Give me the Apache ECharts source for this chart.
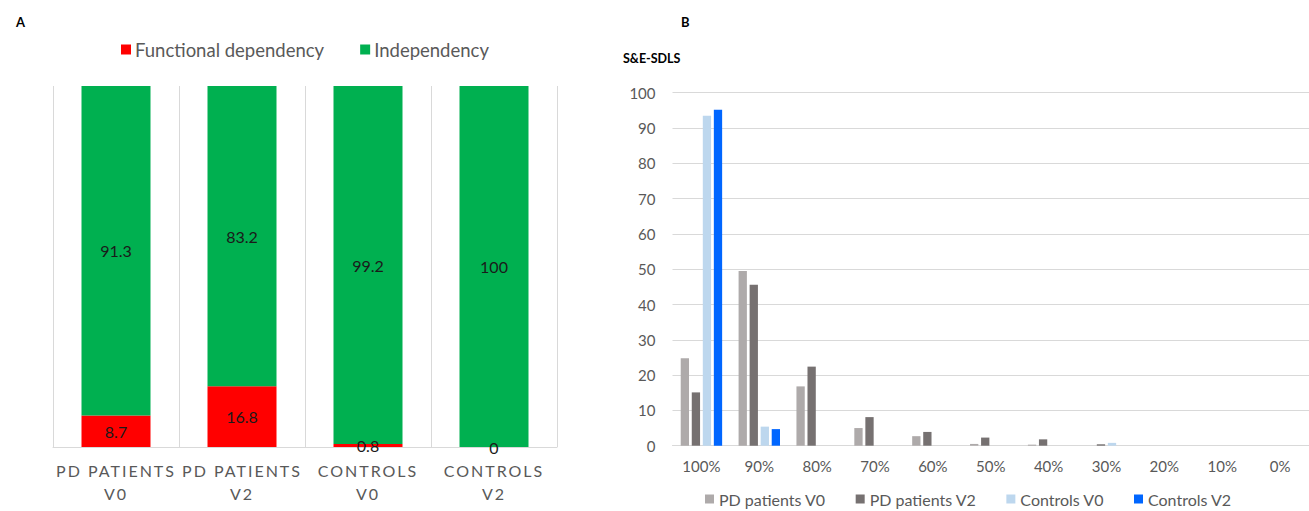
<!DOCTYPE html>
<html>
<head>
<meta charset="utf-8">
<script src="https://cdn.jsdelivr.net/npm/echarts@6/dist/echarts.min.js"></script>
<style>
  html, body { margin: 0; padding: 0; background: #fff; }
  #chart { width: 1309px; height: 511px; }
  /* spaced capitals for the group names under panel A */
  #chart text[style*="Carlito"] { letter-spacing: 2px; }
</style>
</head>
<body>
<div id="chart"></div>
<script>
// Panel A: share of functional dependency vs independency per group (%)
const groupsA = ['PD PATIENTS\nV0', 'PD PATIENTS\nV2', 'CONTROLS\nV0', 'CONTROLS\nV2'];
const dependency = [8.7, 16.8, 0.8, 0];
const independency = [91.3, 83.2, 99.2, 100];

// Panel B: S&E-SDLS score distribution (% of subjects)
const sdlsScores = ['100%', '90%', '80%', '70%', '60%', '50%', '40%', '30%', '20%', '10%', '0%'];
const pdPatientsV0 = [24.8, 49.5, 16.8, 5.0, 2.7, 0.5, 0.3, 0, 0, 0, 0];
const pdPatientsV2 = [15.1, 45.6, 22.4, 8.1, 3.9, 2.3, 1.8, 0.4, 0, 0, 0];
const controlsV0 = [93.5, 5.4, 0, 0, 0, 0, 0, 0.8, 0, 0, 0];
const controlsV2 = [95.2, 4.7, 0, 0, 0, 0, 0, 0, 0, 0, 0];
const valueTicksB = { min: 0, max: 100, interval: 10 };

const FONT = 'Lato';
const GREY_TEXT = '#595959';
const GRID_LINE = '#d9d9d9';

const chart = echarts.init(document.getElementById('chart'), null, { renderer: 'svg' });

const barB = (name, data, color) => ({
  name, type: 'bar', data, xAxisIndex: 1, yAxisIndex: 1,
  itemStyle: { color },
  barWidth: 8.3, barGap: '33%'
});

chart.setOption({
  animation: false,
  backgroundColor: '#fff',
  title: [
    { text: 'A', left: 11, top: 10, textStyle: { fontFamily: FONT, fontSize: 13, fontWeight: 'bold', color: '#000' } },
    { text: 'B', left: 676, top: 10, textStyle: { fontFamily: FONT, fontSize: 13, fontWeight: 'bold', color: '#000' } },
    { text: 'S&E-SDLS', left: 618, top: 47, textStyle: { fontFamily: FONT, fontSize: 12.5, fontWeight: 'bold', color: '#000' } }
  ],
  legend: [
    {
      data: ['Functional dependency', 'Independency'],
      left: 116, top: 35,
      itemWidth: 10, itemHeight: 10, itemGap: 36,
      icon: 'rect',
      textStyle: { fontFamily: FONT, fontSize: 18.5, color: GREY_TEXT, padding: [0, 0, 0, -1] }
    },
    {
      data: ['PD patients V0', 'PD patients V2', 'Controls V0', 'Controls V2'],
      left: 700, top: 486,
      itemWidth: 9, itemHeight: 9, itemGap: 30,
      icon: 'rect',
      textStyle: { fontFamily: FONT, fontSize: 16, color: GREY_TEXT }
    }
  ],
  grid: [
    { left: 53, right: 752, top: 86, bottom: 64 },
    { left: 672.5, right: -12.5, top: 92.7, bottom: 65.3 }
  ],
  xAxis: [
    {
      type: 'category', gridIndex: 0, data: groupsA,
      axisTick: { show: false },
      axisLine: { lineStyle: { color: GRID_LINE } },
      splitLine: { show: true, interval: 0, lineStyle: { color: GRID_LINE } },
      axisLabel: { interval: 0, fontFamily: 'Lato, Carlito', fontSize: 16, color: GREY_TEXT, lineHeight: 23, margin: 12 }
    },
    {
      type: 'category', gridIndex: 1, data: sdlsScores,
      axisTick: { show: false },
      axisLine: { lineStyle: { color: GRID_LINE } },
      axisLabel: { interval: 0, fontFamily: FONT, fontSize: 15, color: GREY_TEXT, margin: 13 }
    }
  ],
  yAxis: [
    { type: 'value', gridIndex: 0, min: 0, max: 100, show: false },
    {
      type: 'value', gridIndex: 1, min: valueTicksB.min, max: valueTicksB.max, interval: valueTicksB.interval,
      axisLine: { show: false }, axisTick: { show: false },
      splitLine: { lineStyle: { color: GRID_LINE } },
      axisLabel: { fontFamily: FONT, fontSize: 15, color: GREY_TEXT, margin: 17 }
    }
  ],
  series: [
    {
      name: 'Functional dependency', type: 'bar', stack: 'a', data: dependency,
      xAxisIndex: 0, yAxisIndex: 0, barWidth: 69,
      itemStyle: { color: '#ff0000' },
      label: { show: true, position: 'inside', fontFamily: FONT, fontSize: 16, color: '#1a1a1a' }
    },
    {
      name: 'Independency', type: 'bar', stack: 'a', data: independency,
      xAxisIndex: 0, yAxisIndex: 0, barWidth: 69,
      itemStyle: { color: '#00b050' },
      label: { show: true, position: 'inside', fontFamily: FONT, fontSize: 16, color: '#1a1a1a' }
    },
    barB('PD patients V0', pdPatientsV0, '#aeaaaa'),
    barB('PD patients V2', pdPatientsV2, '#767171'),
    barB('Controls V0', controlsV0, '#bdd7ee'),
    barB('Controls V2', controlsV2, '#0066ff')
  ]
});
</script>
</body>
</html>
